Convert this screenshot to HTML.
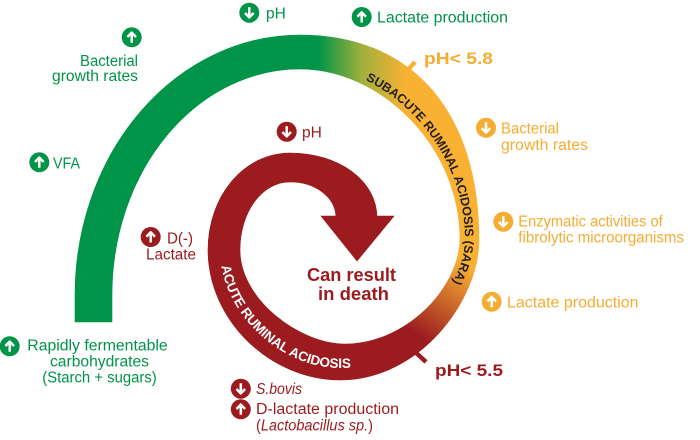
<!DOCTYPE html>
<html><head><meta charset="utf-8"><style>
html,body{margin:0;padding:0;background:#fff;}
svg{display:block;font-family:"Liberation Sans",Arial,sans-serif;}
</style></head><body>
<svg width="700" height="440" viewBox="0 0 700 440" xmlns="http://www.w3.org/2000/svg">
<defs>
 <linearGradient id="g1" gradientUnits="userSpaceOnUse" x1="318" y1="0" x2="405" y2="0">
  <stop offset="0" stop-color="#009448"/><stop offset="0.5" stop-color="#9fb03c"/><stop offset="1" stop-color="#F8B133"/>
 </linearGradient>
 <linearGradient id="g2" gradientUnits="userSpaceOnUse" x1="472" y1="268" x2="425" y2="340">
  <stop offset="0" stop-color="#F8B133"/><stop offset="1" stop-color="#9B1B1F"/>
 </linearGradient>
 <path id="tp1" d="M300 64 C383 64 465 142 465 240 C463 292 408 349 345 349" fill="none"/>
 <path id="tp2" d="M220 250 C220 312 280 368 340 368 L400 368" fill="none"/>
 <g id="up"><path d="M0 5.5 V-4 M-4.3 -0.3 L0 -4.7 L4.3 -0.3" stroke="#fff" stroke-width="2.5" fill="none" stroke-linejoin="round"/></g>
 <g id="dn"><path d="M0 -5.5 V4 M-4.3 0.3 L0 4.7 L4.3 0.3" stroke="#fff" stroke-width="2.5" fill="none" stroke-linejoin="round"/></g>
</defs>

<!-- spiral band -->
<path d="M75 322 L75 295 A225 260 0 0 1 300 35 L300 69 A188 226 0 0 0 112 295 L112 322 Z" fill="#009448" stroke="#009448" stroke-width="0.6"/>
<path d="M300 35 C415 35 479 115 479 240 L460 240 C460 145 380 69 300 69 Z" fill="url(#g1)" stroke="url(#g1)" stroke-width="0.6"/>
<path d="M479 240 C479 300 420 380 340 380 L345 344 C405 344 458 290 460 240 Z" fill="url(#g2)" stroke="url(#g2)" stroke-width="0.6"/>
<g fill="#9B1B1F" stroke="#9B1B1F" stroke-width="0.6">
 <path d="M340 380 C270 380 208 320 208 250 L240 250 C240 300 300 344 345 344 Z"/>
 <path d="M208 250 C208 196 244 153 290 153 L290 182 C262 182 240 212 240 250 Z"/>
 <path d="M290 153 C338 153 377 180 377 218 L336 218 C336 197 315 182 290 182 Z"/>
 <polygon points="321,216 394,216 357,261"/>
</g>

<!-- ticks -->
<line x1="404" y1="74" x2="415" y2="62" stroke="#F8B133" stroke-width="4.5"/>
<line x1="412" y1="349" x2="426" y2="362" stroke="#9B1B1F" stroke-width="4.5"/>

<!-- band text -->
<text font-size="12.5" font-weight="bold" fill="#231F20" letter-spacing="0.05"><textPath href="#tp1" startOffset="68">SUBACUTE RUMINAL ACIDOSIS (SARA)</textPath></text>
<text font-size="13.5" font-weight="bold" fill="#fff" letter-spacing="-0.05"><textPath href="#tp2" startOffset="16">ACUTE RUMINAL ACIDOSIS</textPath></text>

<!-- icons green -->
<g fill="#009448">
 <circle cx="249.3" cy="12.7" r="10"/><circle cx="361.7" cy="17" r="10"/><circle cx="131.7" cy="37.3" r="10"/>
 <circle cx="39.3" cy="162.3" r="10"/><circle cx="9.7" cy="346.3" r="10"/>
</g>
<use href="#dn" x="249.3" y="12.7"/><use href="#up" x="361.7" y="17"/><use href="#up" x="131.7" y="37.3"/>
<use href="#up" x="39.3" y="162.3"/><use href="#up" x="9.7" y="346.3"/>
<!-- icons red -->
<g fill="#9B1B1F">
 <circle cx="286.7" cy="131.7" r="10"/><circle cx="150.7" cy="237" r="10"/>
 <circle cx="240.8" cy="388.7" r="10"/><circle cx="240.8" cy="409.3" r="10"/>
</g>
<use href="#dn" x="286.7" y="131.7"/><use href="#up" x="150.7" y="237"/>
<use href="#dn" x="240.8" y="388.7"/><use href="#up" x="240.8" y="409.3"/>
<!-- icons orange -->
<g fill="#F5AC32">
 <circle cx="486" cy="127.8" r="10"/><circle cx="503.3" cy="221.7" r="10"/><circle cx="491.7" cy="301.7" r="10"/>
</g>
<use href="#dn" x="486" y="127.8"/><use href="#dn" x="503.3" y="221.7"/><use href="#up" x="491.7" y="301.7"/>

<!-- green labels -->
<g fill="#009448" font-size="15.5">
 <text x="266" y="18.5">pH</text>
 <text x="377" y="22.7" textLength="131" lengthAdjust="spacingAndGlyphs">Lactate production</text>
 <text x="80" y="66" textLength="58" lengthAdjust="spacingAndGlyphs">Bacterial</text>
 <text x="52" y="81" textLength="86" lengthAdjust="spacingAndGlyphs">growth rates</text>
 <text x="53" y="168.3" textLength="27" lengthAdjust="spacingAndGlyphs">VFA</text>
 <text x="27.3" y="350.7" textLength="140.4" lengthAdjust="spacingAndGlyphs">Rapidly fermentable</text>
 <text x="50" y="366.7" textLength="99" lengthAdjust="spacingAndGlyphs">carbohydrates</text>
 <text x="42.3" y="382.7" textLength="114.4" lengthAdjust="spacingAndGlyphs">(Starch + sugars)</text>
</g>

<!-- red labels -->
<g fill="#9B1B1F" font-size="15.5">
 <text x="302" y="137.3">pH</text>
 <text x="167" y="243.3" textLength="26" lengthAdjust="spacingAndGlyphs">D(-)</text>
 <text x="146" y="259.3" textLength="50" lengthAdjust="spacingAndGlyphs">Lactate</text>
 <text x="256" y="393.8" font-style="italic" textLength="46" lengthAdjust="spacingAndGlyphs">S.bovis</text>
 <text x="256" y="413.8" textLength="143" lengthAdjust="spacingAndGlyphs">D-lactate production</text>
 <text x="256" y="430.7" textLength="117" lengthAdjust="spacingAndGlyphs">(<tspan font-style="italic">Lactobacillus sp.</tspan>)</text>
 <text x="435" y="376" font-size="17" font-weight="bold" textLength="68" lengthAdjust="spacingAndGlyphs">pH&lt; 5.5</text>
 <text x="307" y="281" font-size="18" font-weight="bold" textLength="89" lengthAdjust="spacingAndGlyphs">Can result</text>
 <text x="318" y="300" font-size="18" font-weight="bold" textLength="71" lengthAdjust="spacingAndGlyphs">in death</text>
</g>

<!-- orange labels -->
<g fill="#F5AC32" font-size="15.5">
 <text x="424" y="64" font-size="17" font-weight="bold" textLength="69" lengthAdjust="spacingAndGlyphs">pH&lt; 5.8</text>
 <text x="501" y="133.3" textLength="58" lengthAdjust="spacingAndGlyphs">Bacterial</text>
 <text x="501" y="150" textLength="87" lengthAdjust="spacingAndGlyphs">growth rates</text>
 <text x="518.3" y="226.7" textLength="144.4" lengthAdjust="spacingAndGlyphs">Enzymatic activities of</text>
 <text x="518.3" y="242.7" textLength="165.7" lengthAdjust="spacingAndGlyphs">fibrolytic microorganisms</text>
 <text x="507" y="307.3" textLength="131.5" lengthAdjust="spacingAndGlyphs">Lactate production</text>
</g>
</svg>
</body></html>
